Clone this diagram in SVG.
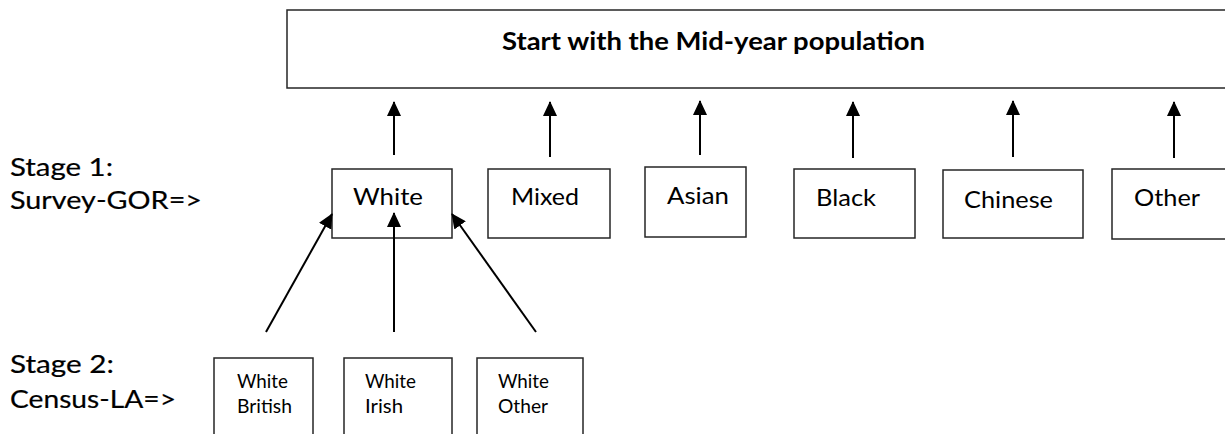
<svg xmlns="http://www.w3.org/2000/svg" width="1225" height="434" viewBox="0 0 1225 434">
<style>
.box{fill:#fff;stroke:#262626;stroke-width:1.5}
.t{font-family:Lato,"Liberation Sans",sans-serif;fill:#000}
.title{font-size:24px;font-weight:bold}
.node{font-size:23px}
.small{font-size:18.5px}
.stage{font-size:25px;stroke:#000;stroke-width:0.2}
.c{stroke:#000;stroke-width:2;fill:none;marker-end:url(#ah)}
</style>
<defs>
<marker id="ah" viewBox="0 0 15 14" refX="14" refY="7" markerWidth="15" markerHeight="14" markerUnits="userSpaceOnUse" orient="auto">
<path d="M0,0 L15,7 L0,14 Z" fill="#000"/>
</marker>
</defs>
<rect width="1225" height="434" fill="#fff"/>
<g id="top">
<rect class="box" x="287" y="10" width="960" height="78"/>
<text class="t title" x="502" y="50" textLength="423" lengthAdjust="spacingAndGlyphs">Start with the Mid-year population</text>
</g>
<g id="stage1">
<text class="t stage" x="10" y="176" textLength="103" lengthAdjust="spacingAndGlyphs">Stage 1:</text>
<text class="t stage" x="10" y="209" textLength="192" lengthAdjust="spacingAndGlyphs">Survey-GOR=&gt;</text>
</g>
<g id="stage2">
<text class="t stage" x="10" y="373" textLength="104" lengthAdjust="spacingAndGlyphs">Stage 2:</text>
<text class="t stage" x="10" y="408" textLength="166" lengthAdjust="spacingAndGlyphs">Census-LA=&gt;</text>
</g>
<g id="white">
<rect class="box" x="332" y="169" width="120" height="69"/>
<text class="t node" x="353" y="205" textLength="70" lengthAdjust="spacingAndGlyphs">White</text>
</g>
<g id="mixed">
<rect class="box" x="488" y="169" width="122" height="69"/>
<text class="t node" x="511" y="205" textLength="68" lengthAdjust="spacingAndGlyphs">Mixed</text>
</g>
<g id="asian">
<rect class="box" x="645" y="167" width="101" height="70"/>
<text class="t node" x="667" y="204" textLength="62" lengthAdjust="spacingAndGlyphs">Asian</text>
</g>
<g id="black">
<rect class="box" x="794" y="169" width="121" height="69"/>
<text class="t node" x="816" y="206" textLength="60" lengthAdjust="spacingAndGlyphs">Black</text>
</g>
<g id="chinese">
<rect class="box" x="943" y="170" width="140" height="68"/>
<text class="t node" x="964" y="208" textLength="89" lengthAdjust="spacingAndGlyphs">Chinese</text>
</g>
<g id="other">
<rect class="box" x="1112" y="169" width="140" height="70"/>
<text class="t node" x="1134" y="206" textLength="66" lengthAdjust="spacingAndGlyphs">Other</text>
</g>
<g id="white-british">
<rect class="box" x="214" y="358" width="99" height="100"/>
<text class="t small" x="237" y="388" textLength="51" lengthAdjust="spacingAndGlyphs">White</text>
<text class="t small" x="237" y="413" textLength="55" lengthAdjust="spacingAndGlyphs">British</text>
</g>
<g id="white-irish">
<rect class="box" x="344" y="358" width="108" height="100"/>
<text class="t small" x="365" y="388" textLength="51" lengthAdjust="spacingAndGlyphs">White</text>
<text class="t small" x="365" y="413" textLength="38" lengthAdjust="spacingAndGlyphs">Irish</text>
</g>
<g id="white-other">
<rect class="box" x="477" y="358" width="106" height="100"/>
<text class="t small" x="498" y="388" textLength="51" lengthAdjust="spacingAndGlyphs">White</text>
<text class="t small" x="498" y="413" textLength="50" lengthAdjust="spacingAndGlyphs">Other</text>
</g>
<g id="connectors">
<line class="c" x1="394" y1="155" x2="394" y2="102"/>
<line class="c" x1="550" y1="157" x2="550" y2="102"/>
<line class="c" x1="700" y1="155" x2="700" y2="101"/>
<line class="c" x1="853" y1="158" x2="853" y2="102"/>
<line class="c" x1="1013" y1="157" x2="1013" y2="101"/>
<line class="c" x1="1174" y1="158" x2="1174" y2="102"/>
<line class="c" x1="266" y1="332" x2="332" y2="214"/>
<line class="c" x1="394" y1="332" x2="394" y2="213"/>
<line class="c" x1="536" y1="332" x2="452" y2="214"/>
</g>
</svg>
